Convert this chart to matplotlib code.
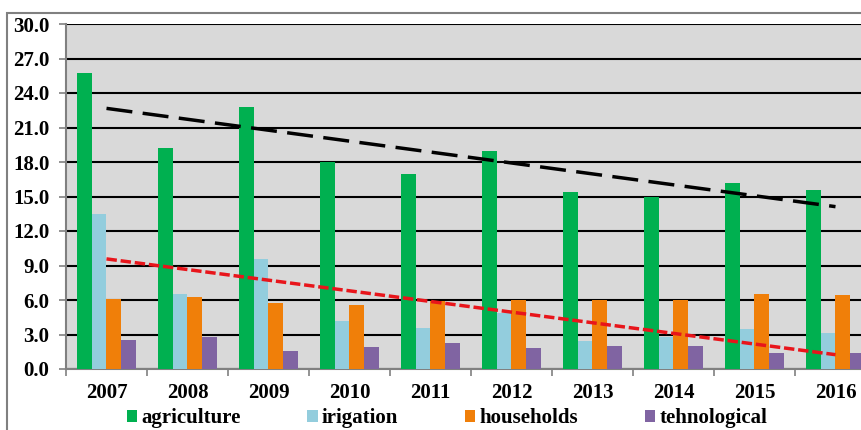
import matplotlib.pyplot as plt
import numpy as np
from matplotlib.patches import Patch, Rectangle

years = ["2007", "2008", "2009", "2010", "2011", "2012", "2013", "2014", "2015", "2016"]
agriculture = [25.7, 19.2, 22.8, 18.0, 17.0, 19.0, 15.4, 15.0, 16.2, 15.6]
irigation = [13.5, 6.5, 9.6, 4.2, 3.6, 4.9, 2.4, 2.8, 3.5, 3.1]
households = [6.1, 6.3, 5.7, 5.6, 5.9, 6.0, 6.0, 6.0, 6.5, 6.4]
tehnological = [2.5, 2.8, 1.6, 1.9, 2.3, 1.8, 2.0, 2.0, 1.4, 1.4]

series_names = ["agriculture", "irigation", "households", "tehnological"]
series_colors = ["#00B050", "#93CDDD", "#F07F09", "#8064A2"]

plt.rcParams["font.family"] = ["Liberation Serif", "DejaVu Serif"]
plt.rcParams["font.weight"] = "bold"

fig = plt.figure(figsize=(8.62, 4.30), dpi=100)
ax = fig.add_axes([66 / 862, 61 / 430, 810 / 862, 345 / 430])
ax.set_facecolor("#D9D9D9")

x = np.arange(len(years))
width = 0.182
for i, (vals, color) in enumerate(zip([agriculture, irigation, households, tehnological], series_colors)):
    ax.bar(x + (i - 1.5) * width, vals, width, color=color, zorder=3)

# linear trends for agriculture and irrigation
for vals, color, dashes in [(agriculture, "black", (7.5, 3)), (irigation, "#E8151B", (3, 1.1))]:
    k, b = np.polyfit(x, vals, 1)
    ax.plot(x, k * x + b, color=color, lw=2.5, linestyle=(0, dashes), zorder=4)

ax.set_xlim(-0.5, 9.5)
ax.set_ylim(0, 30)
ax.set_yticks(np.arange(0, 30.1, 3))
ax.set_yticklabels([f"{v:.1f}" for v in np.arange(0, 30.1, 3)])
ax.yaxis.grid(True, color="black", lw=1.5, zorder=1)
ax.set_axisbelow(True)

ax.set_xticks(x)
ax.set_xticklabels(years)
ax.set_xticks(np.arange(-0.5, 10, 1), minor=True)
ax.tick_params(axis="x", which="major", length=0, pad=10, labelsize=15)
ax.tick_params(axis="x", which="minor", length=5, color="#808080", width=1.2)
ax.tick_params(axis="y", length=5, color="#808080", width=1.2, pad=7, labelsize=15)

for side in ["top", "right"]:
    ax.spines[side].set_visible(False)
for side in ["left", "bottom"]:
    ax.spines[side].set_color("#808080")
    ax.spines[side].set_linewidth(1.5)

handles = [Patch(facecolor=c, edgecolor="none") for c in series_colors]
fig.legend(handles, series_names, loc="center", bbox_to_anchor=(447 / 862, 12 / 430), ncol=4,
           frameon=False, fontsize=15, handlelength=0.5, handleheight=0.5,
           handletextpad=0.2, columnspacing=3.2, borderpad=0)

fig.patches.append(Rectangle((7 / 862, -0.05), 1.2, 1 - 13 / 430 + 0.05, transform=fig.transFigure,
                             fill=False, edgecolor="#808080", lw=1.5, zorder=0))

fig.savefig("out.png", dpi=100)
